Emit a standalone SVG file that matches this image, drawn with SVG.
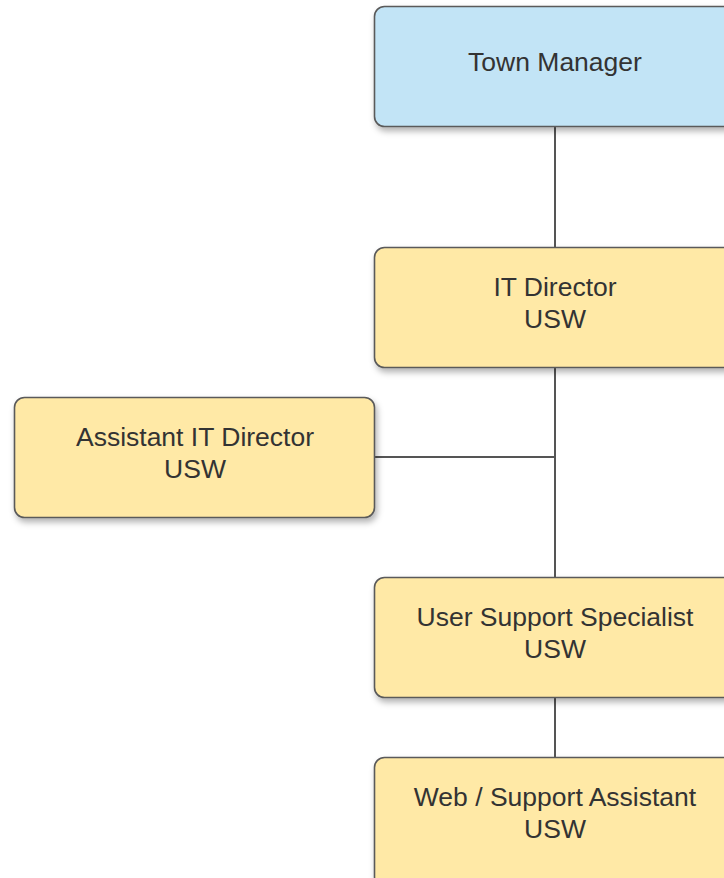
<svg xmlns="http://www.w3.org/2000/svg" width="724" height="878" viewBox="0 0 724 878">
<style>
.box{stroke:#5a5a5a;stroke-width:1.6;filter:url(#sh)}
.y{fill:#ffe9a6}
.b{fill:#c2e4f6}
.t{font-family:"Liberation Sans",Arial,sans-serif;font-size:26.5px;fill:#333;text-anchor:middle}
.c{stroke:#555;stroke-width:2;fill:none}
</style>
<defs>
<filter id="sh" x="-10%" y="-10%" width="130%" height="140%">
<feDropShadow dx="2" dy="4" stdDeviation="3" flood-color="#000" flood-opacity="0.3"/>
</filter>
</defs>
<rect width="724" height="878" fill="#fff"/>
<g id="connectors">
<path class="c" d="M555 126V247"/>
<path class="c" d="M555 367V577"/>
<path class="c" d="M374 457H555"/>
<path class="c" d="M555 697V757"/>
</g>
<g id="town-manager">
<rect class="box b" x="374.5" y="6.5" width="362" height="120" rx="10"/>
<text class="t" x="555" y="71">Town Manager</text>
</g>
<g id="it-director">
<rect class="box y" x="374.5" y="247.5" width="362" height="120" rx="10"/>
<text class="t" x="555" y="296">IT Director</text>
<text class="t" x="555" y="328">USW</text>
</g>
<g id="assistant-it-director">
<rect class="box y" x="14.5" y="397.5" width="360" height="120" rx="10"/>
<text class="t" x="195" y="446">Assistant IT Director</text>
<text class="t" x="195" y="478">USW</text>
</g>
<g id="user-support-specialist">
<rect class="box y" x="374.5" y="577.5" width="362" height="120" rx="10"/>
<text class="t" x="555" y="626">User Support Specialist</text>
<text class="t" x="555" y="658">USW</text>
</g>
<g id="web-support-assistant">
<rect class="box y" x="374.5" y="757.5" width="362" height="130" rx="10"/>
<text class="t" x="555" y="806">Web / Support Assistant</text>
<text class="t" x="555" y="838">USW</text>
</g>
</svg>
